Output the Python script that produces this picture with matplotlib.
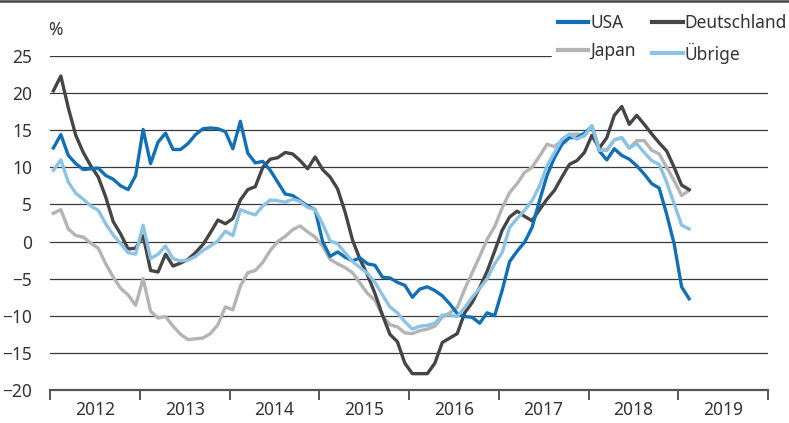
import numpy as np
import matplotlib
matplotlib.use("Agg")
import matplotlib.pyplot as plt
from matplotlib.lines import Line2D

# monthly values, Jan 2012 .. Feb 2019 (in %)
usa = [12.6, 14.4, 11.6, 10.5, 9.7, 9.8, 9.9, 8.9, 8.4, 7.5, 7.0, 8.9,
       15.1, 10.5, 13.4, 14.6, 12.4, 12.4, 13.2, 14.4, 15.2, 15.3, 15.2, 14.8,
       12.5, 16.2, 11.9, 10.6, 10.8, 9.6, 8.0, 6.4, 6.2, 5.5, 4.8, 4.3,
       0.0, -2.0, -1.4, -2.1, -2.6, -2.2, -3.0, -3.2, -4.8, -4.9, -5.5, -5.9,
       -7.5, -6.4, -6.1, -6.6, -7.3, -8.4, -9.7, -10.1, -10.2, -11.0, -9.6, -10.0,
       -6.6, -2.7, -1.3, -0.1, 1.9, 5.5, 8.9, 11.3, 13.1, 14.0, 14.0, 14.6,
       15.5, 12.2, 11.0, 12.5, 11.6, 11.1, 10.2, 9.1, 7.8, 7.2, 3.7, -0.3, -6.1, -7.7]

deutschland = [20.3, 22.3, 18.0, 14.3, 12.0, 10.2, 8.7, 6.0, 2.7, 1.0, -1.0, -0.9,
               0.8, -3.9, -4.1, -1.7, -3.3, -2.9, -2.4, -1.5, -0.4, 1.2, 2.9, 2.4,
               3.1, 5.6, 7.0, 7.4, 10.0, 11.1, 11.3, 12.0, 11.8, 10.9, 9.8, 11.4,
               9.7, 8.7, 7.1, 4.0, 0.2, -2.4, -4.5, -7.0, -9.9, -12.5, -13.5, -16.4,
               -17.8, -17.8, -17.8, -16.4, -13.6, -13.0, -12.4, -9.6, -8.2, -6.2, -4.0, -1.3,
               1.5, 3.3, 4.1, 3.4, 2.8, 4.3, 5.7, 6.9, 8.7, 10.4, 10.9, 12.0,
               14.3, 12.6, 14.0, 17.0, 18.2, 15.8, 17.0, 15.8, 14.5, 13.3, 12.2, 10.0, 7.6, 7.0]

japan = [3.8, 4.3, 1.7, 0.8, 0.6, -0.2, -0.9, -3.0, -4.8, -6.3, -7.2, -8.6,
         -5.0, -9.4, -10.3, -10.1, -11.4, -12.5, -13.2, -13.1, -13.0, -12.4, -11.2, -8.8,
         -9.2, -6.0, -4.2, -3.9, -2.8, -1.2, 0.0, 0.7, 1.6, 2.1, 1.3, 0.6,
         -0.6, -2.4, -3.0, -3.5, -4.2, -5.6, -7.0, -7.9, -10.0, -11.2, -11.5, -12.3,
         -12.4, -12.0, -11.8, -11.4, -10.2, -9.6, -8.9, -6.4, -4.2, -2.0, 0.3, 2.0,
         4.5, 6.6, 7.8, 9.3, 10.0, 11.5, 13.1, 12.8, 13.6, 14.4, 14.5, 14.2,
         15.6, 12.5, 12.3, 13.7, 14.0, 12.6, 13.6, 13.6, 12.3, 11.8, 10.0, 8.2, 6.2, 6.9]

uebrige = [9.6, 11.0, 8.0, 6.5, 5.7, 4.8, 4.2, 2.4, 0.9, -0.3, -1.5, -1.7,
           2.2, -2.3, -1.7, -0.6, -2.3, -2.6, -2.5, -2.0, -1.2, -0.6, 0.1, 1.4,
           0.8, 4.3, 3.9, 3.6, 4.8, 5.6, 5.5, 5.3, 5.7, 5.4, 4.6, 4.3,
           2.4, 0.1, -0.3, -1.5, -2.7, -3.5, -4.3, -5.5, -7.2, -8.8, -9.6, -10.8,
           -11.8, -11.4, -11.3, -11.0, -9.9, -9.9, -10.1, -8.9, -7.5, -6.3, -5.0, -3.0,
           -1.5, 1.9, 3.1, 4.2, 5.5, 7.5, 10.2, 12.0, 13.8, 14.5, 13.8, 14.3,
           15.6, 12.3, 12.3, 13.7, 14.0, 12.6, 13.2, 12.0, 10.9, 10.4, 8.0, 5.1, 2.2, 1.7]

years = list(range(2012, 2020))
x = 2012 + (np.arange(len(usa)) + 0.45) / 12

c_usa = "#1170b5"
c_de = "#454545"
c_jp = "#b4b4b4"
c_ub = "#8cc3e5"
txt = "#333333"
fs = 12.5

plt.rcParams["font.family"] = ["Noto Sans", "DejaVu Sans"]

fig = plt.figure(figsize=(7.89, 4.23), dpi=100)
ax = fig.add_axes([50 / 789, 33 / 423, 718 / 789, 334 / 423])

lw = 2.4
ax.plot(x, japan, color=c_jp, lw=lw, label="Japan")
ax.plot(x, deutschland, color=c_de, lw=lw, label="Deutschland")
ax.plot(x, usa, color=c_usa, lw=lw, label="USA")
ax.plot(x, uebrige, color=c_ub, lw=lw, label="Übrige")

ax.set_xlim(2012, 2020)
ax.set_ylim(-20, 25)
ax.set_yticks(range(-20, 26, 5))
ax.yaxis.grid(True, color="#3a3a3a", lw=0.9)
ax.set_axisbelow(True)

ax.set_xticks(range(2012, 2021))
ax.set_xticklabels([])
ax.set_xticks([y + 0.5 for y in years], minor=True)
ax.set_xticklabels([str(y) for y in years], minor=True)
ax.tick_params(axis="x", which="major", length=7, width=1.4, color="#555555", direction="out")
ax.tick_params(axis="x", which="minor", length=0, pad=8, labelsize=fs, labelcolor=txt)
ax.tick_params(axis="y", length=0, pad=13, labelsize=fs, labelcolor=txt)

for s in ["top", "right", "left"]:
    ax.spines[s].set_visible(False)
ax.spines["bottom"].set_color("#555555")
ax.spines["bottom"].set_linewidth(1.6)

fig.text(48 / 789, 1 - 30 / 423, "%", fontsize=fs, color=txt, va="center", ha="left")

handles = [Line2D([], [], color=c, lw=3) for c in (c_usa, c_jp, c_de, c_ub)]
labels = ["USA", "Japan", "Deutschland", "Übrige"]
leg = fig.legend(handles, labels, ncol=2, loc="upper left",
                 bbox_to_anchor=(552 / 789, 1 - 8 / 423), frameon=True,
                 fontsize=fs, handlelength=1.75, handletextpad=0.1,
                 columnspacing=0.95, labelspacing=0.6, borderaxespad=0,
                 borderpad=0.35, fancybox=False)
leg.get_frame().set_facecolor("white")
leg.get_frame().set_edgecolor("white")
leg.get_frame().set_alpha(1)
for t in leg.get_texts():
    t.set_color(txt)

fig.add_artist(Line2D([0, 1], [0.998, 0.998], transform=fig.transFigure, color="#444444", lw=1.8))

fig.savefig("out.png", dpi=100)
